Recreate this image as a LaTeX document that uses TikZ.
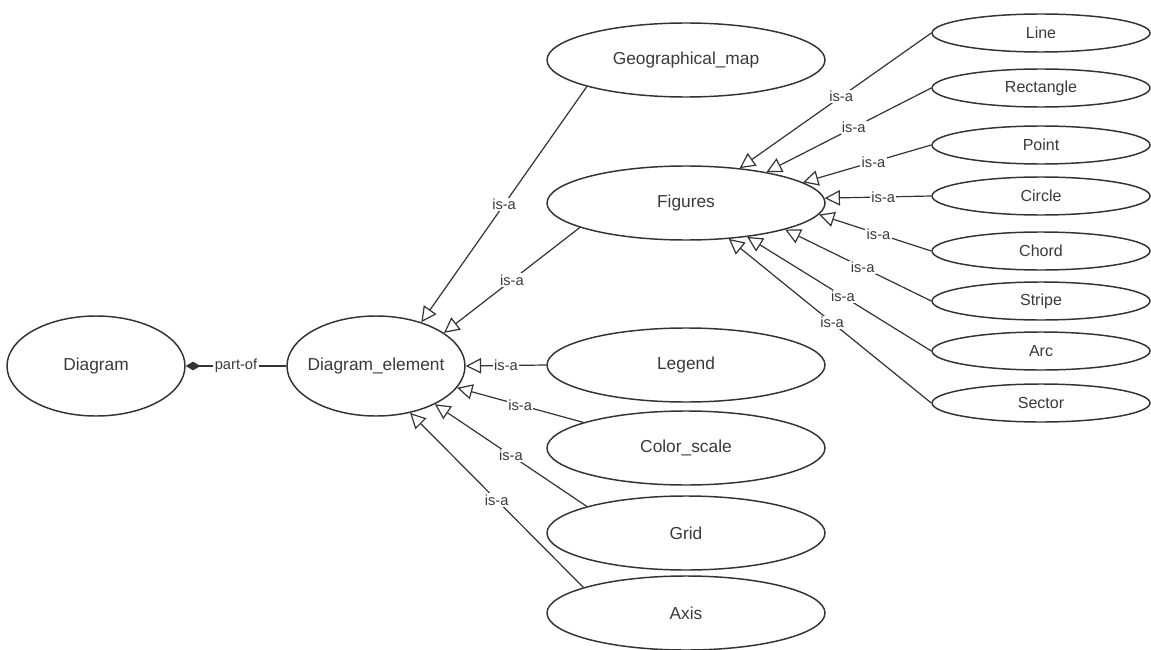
\documentclass[tikz,border=0pt]{standalone}
\usepackage{fontspec}
\setmainfont{Liberation Sans}
\usetikzlibrary{shapes.geometric,arrows.meta}
\definecolor{lc}{HTML}{333333}
\definecolor{tc}{HTML}{3A3A3A}
\newcommand{\ctx}[1]{\makebox[0pt]{#1}}
\tikzset{
  ent/.style={ellipse, draw=lc, line width=1.1pt, inner sep=0pt, text=tc, font=\fontsize{13}{15}\selectfont},
  bigent/.style={ent, minimum width=208.5pt, minimum height=55.5pt},
  smallent/.style={ent, minimum width=163.5pt, minimum height=28.5pt, font=\fontsize{12}{14}\selectfont},
  mident/.style={ent, minimum width=133.5pt, minimum height=75pt},
  isa/.style={draw=lc, line width=0.9pt, -{Triangle[open, length=11.5pt, width=11.5pt, line width=0.9pt]}},
  partof/.style={draw=lc, line width=0.9pt, -{Diamond[length=11pt, width=6.5pt]}},
  lbl/.style={fill=white, inner sep=1pt, text=tc, font=\fontsize{11}{12}\selectfont},
}
\begin{document}
\begin{tikzpicture}[x=0.75pt, y=-0.75pt]
\useasboundingbox[fill=white] (0,0) rectangle (1151,649);
% entities
\node[mident] (dia) at (96,366) {\ctx{Diagram}};
\node[mident] (de) at (376,366) {\ctx{Diagram\_element}};
\node[bigent] (geo) at (686,60) {\ctx{Geographical\_map}};
\node[bigent] (fig) at (686,203) {\ctx{Figures}};
\node[bigent] (leg) at (686,365) {\ctx{Legend}};
\node[bigent] (col) at (686,448) {\ctx{Color\_scale}};
\node[bigent] (grd) at (686,533) {\ctx{Grid}};
\node[bigent] (axs) at (686,613) {\ctx{Axis}};
\node[smallent] (line) at (1041,33) {\ctx{Line}};
\node[smallent] (rect) at (1041,88) {\ctx{Rectangle}};
\node[smallent] (pnt) at (1041,145) {\ctx{Point}};
\node[smallent] (circ) at (1041,196) {\ctx{Circle}};
\node[smallent] (chrd) at (1041,251) {\ctx{Chord}};
\node[smallent] (strp) at (1041,301) {\ctx{Stripe}};
\node[smallent] (arc) at (1041,351) {\ctx{Arc}};
\node[smallent] (sect) at (1041,403) {\ctx{Sector}};
% part-of
\draw[partof] (de.west) -- node[lbl]{part-of} (dia.east);
% is-a to Diagram_element
\draw[isa] (geo.195) -- node[lbl]{is-a} (de.44);
\draw[isa] (fig.193.6) -- node[lbl]{is-a} (de.26.6);
\draw[isa] (leg.west) -- node[lbl]{is-a} (de.east);
\draw[isa] (col.166.4) -- node[lbl]{is-a} (de.-15);
\draw[isa] (grd.165.3) -- node[lbl]{is-a} (de.-33);
\draw[isa] (axs.166) -- node[lbl]{is-a} (de.-54);
% is-a to Figures
\draw[isa] (line.west) -- node[lbl, pos=0.47]{is-a} (fig.33.7);
\draw[isa] (rect.west) -- node[lbl, pos=0.47]{is-a} (fig.21.4);
\draw[isa] (pnt.west) -- node[lbl, pos=0.45]{is-a} (fig.10.5);
\draw[isa] (circ.west) -- node[lbl, pos=0.45]{is-a} (fig.2.9);
\draw[isa] (chrd.west) -- node[lbl, pos=0.47]{is-a} (fig.-5.2);
\draw[isa] (strp.west) -- node[lbl, pos=0.47]{is-a} (fig.-15.6);
\draw[isa] (arc.west) -- node[lbl, pos=0.48]{is-a} (fig.-29.4);
\draw[isa] (sect.west) -- node[lbl, pos=0.49]{is-a} (fig.-40);
\end{tikzpicture}
\end{document}
